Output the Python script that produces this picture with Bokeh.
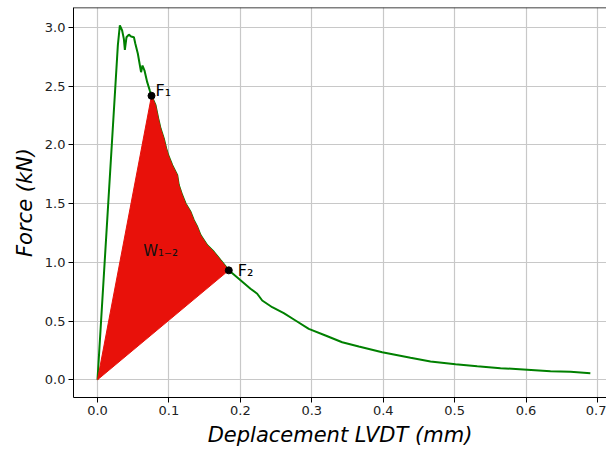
import numpy as np
from bokeh.plotting import figure
from bokeh.models import FixedTicker, Span, Range1d
from bokeh.core.properties import value
from bokeh.embed import file_html
from bokeh.resources import INLINE

# ---- data ----
disp = [0.000, 0.011, 0.022, 0.0285, 0.0313, 0.0345, 0.0369, 0.0383, 0.0406, 0.0439,
        0.047, 0.051, 0.053, 0.0565, 0.059, 0.061, 0.063, 0.0658, 0.0696, 0.0732,
        0.0756,
        0.0812, 0.085, 0.0882, 0.0928, 0.0962, 0.099, 0.1046, 0.1116, 0.1138, 0.1186,
        0.1232, 0.1302, 0.1348, 0.1396, 0.1442, 0.1536, 0.1628, 0.1722,
        0.1838,
        0.1978, 0.2142, 0.2236, 0.2306, 0.2446, 0.2608, 0.2772, 0.2958, 0.3192, 0.3426,
        0.3658, 0.3986, 0.4382, 0.4662, 0.5012, 0.5316, 0.5642, 0.6016, 0.6342, 0.6622,
        0.690]
force = [0.000, 1.10, 2.20, 2.85, 3.018, 2.975, 2.904, 2.81, 2.918, 2.94,
         2.924, 2.918, 2.862, 2.777, 2.69, 2.62, 2.677, 2.634, 2.535, 2.464,
         2.419,
         2.339, 2.226, 2.141, 2.055, 1.970, 1.913, 1.828, 1.743, 1.658, 1.572,
         1.502, 1.431, 1.359, 1.303, 1.232, 1.146, 1.090, 1.019,
         0.932,
         0.860, 0.775, 0.733, 0.675, 0.618, 0.567, 0.505, 0.434, 0.377, 0.320,
         0.284, 0.235, 0.187, 0.156, 0.133, 0.116, 0.099, 0.085, 0.073, 0.068,
         0.056]

f1_disp, f1_force = 0.0756, 2.419
f2_disp, f2_force = 0.1838, 0.932

x_ticks = [0.0, 0.1, 0.2, 0.3, 0.4, 0.5, 0.6, 0.7]
y_ticks = [0.0, 0.5, 1.0, 1.5, 2.0, 2.5, 3.0]

labels_text = ["F\u2081", "F\u2082"]
w_label = "W\u2081\u208B\u2082"

# ---- figure ----
x0, x1 = -0.0336, 0.7126
y0, y1 = -0.151, 3.171

p = figure(width=606, height=451, output_backend="svg", toolbar_location=None,
           x_range=Range1d(x0, x1), y_range=Range1d(y0, y1),
           min_border_left=73, min_border_right=0, min_border_top=7, min_border_bottom=54)
p.outline_line_color = None
p.background_fill_color = "white"
p.border_fill_color = "white"

# green curve
p.line(disp, force, line_color="#008000", line_width=2)

# red area between origin, F1 ... F2
d = np.array(disp)
f = np.array(force)
i1 = int(np.argmin(np.abs(d - f1_disp)))
i2 = int(np.argmin(np.abs(d - f2_disp)))
px = [0.0] + list(d[i1:i2 + 1])
py = [0.0] + list(f[i1:i2 + 1])
p.patch(px, py, fill_color="#e8110a", line_color="#e8110a", line_width=1)

# points F1, F2
p.scatter([f1_disp, f2_disp], [f1_force, f2_force], size=7, color="black")

# annotations
p.text([0.0812, 0.1964], [2.462, 0.930], text=labels_text,
       text_font=value("DejaVu Sans"), text_font_size="16px", text_color="black",
       text_baseline="alphabetic", text_align="left")
p.text([0.0640], [1.100], text=[w_label],
       text_font=value("DejaVu Sans"), text_font_size="15px", text_color="#111111",
       text_baseline="alphabetic", text_align="left")

# top spine
p.add_layout(Span(location=y1, dimension="width", line_color="black", line_width=1.5))

# axes
p.xaxis.ticker = FixedTicker(ticks=x_ticks)
p.yaxis.ticker = FixedTicker(ticks=y_ticks)
p.xaxis.major_label_overrides = {t: f"{t:.1f}" for t in x_ticks}
p.yaxis.major_label_overrides = {t: f"{t:.1f}" for t in y_ticks}
for ax in (p.xaxis[0], p.yaxis[0]):
    ax.minor_tick_line_color = None
    ax.major_tick_out = 5
    ax.major_tick_in = 0
    ax.major_tick_line_color = "black"
    ax.axis_line_color = "black"
    ax.major_label_text_font = "DejaVu Sans"
    ax.major_label_text_font_size = "13px"
    ax.major_label_text_color = "#222222"
    ax.major_label_standoff = 3
    ax.axis_label_text_font = "DejaVu Sans"
    ax.axis_label_text_font_style = "italic"
    ax.axis_label_text_font_size = "21px"
    ax.axis_label_text_color = "black"
    ax.axis_label_standoff = 5

p.xaxis.axis_label = "Deplacement LVDT (mm)"
p.yaxis.axis_label = "Force (kN)"

p.xgrid.grid_line_color = "#c8c8c8"
p.ygrid.grid_line_color = "#c8c8c8"
p.xgrid.grid_line_width = 1.2
p.ygrid.grid_line_width = 1.2

open("out.html", "w").write(file_html(p, INLINE))
